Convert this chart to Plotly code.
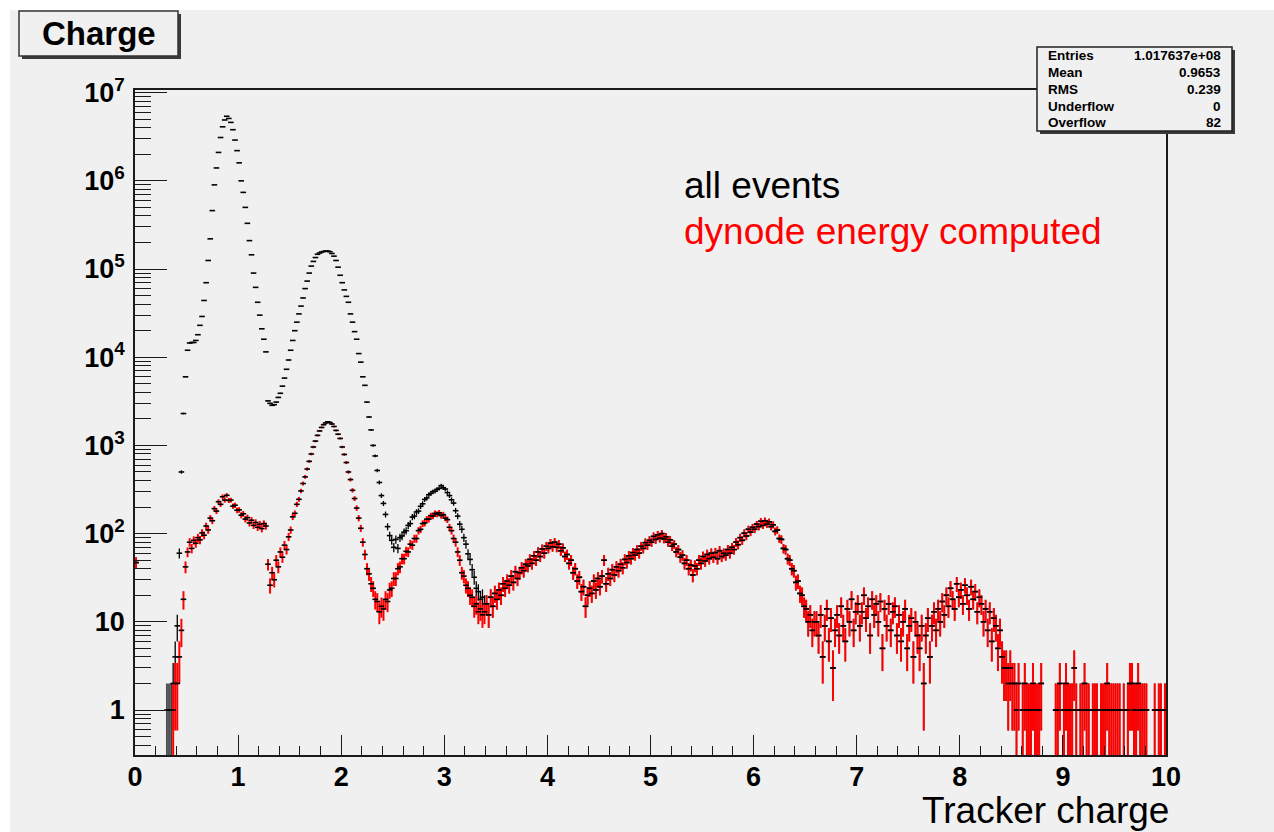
import numpy as np
import plotly.graph_objects as go

# Histogram binning: 500 bins of width 0.02 on [0, 10]
BIN_WIDTH = 0.02

# "all events" counts, bins centred 0.01 ... 3.39
all_events_head = [
    47, 0, 0, 0, 0, 0, 0, 0, 0, 0,
    0, 0, 0, 0, 0, 1, 1, 1, 2, 4,
    9, 60, 500, 2300, 6000, 12000, 14500, 14700, 14700, 15500,
    18000, 23000, 29000, 44000, 70000, 125000, 220000, 460000, 900000, 1400000,
    2100000, 3100000, 4100000, 4900000, 5400000, 5100000, 4600000, 3800000, 2900000, 2200000,
    1600000, 1000000, 740000, 500000, 330000, 210000, 145000, 90000, 62000, 42000,
    30000, 21000, 16000, 11500, 3200, 3000, 2850, 2900, 3100, 3500,
    3900, 4700, 5800, 7300, 9300, 12000, 15500, 20000, 25000, 31000,
    38000, 47000, 60000, 73000, 90000, 108000, 122000, 135000, 147000, 152000,
    156000, 158000, 160000, 160000, 157000, 150000, 140000, 125000, 105000, 85000,
    70000, 58000, 49000, 42000, 31000, 25000, 19500, 16000, 11000, 8800,
    6000, 4800, 3100, 2100, 1500, 1000, 760, 520, 380, 270,
    220, 165, 120, 95, 84, 70, 86, 68, 90, 94,
    104, 108, 124, 130, 154, 158, 176, 180, 204, 218,
    244, 254, 276, 286, 300, 302, 318, 326, 350, 332,
    320, 292, 270, 242, 222, 182, 158, 128, 112, 90,
    76, 59, 51, 39, 32, 24, 22, 18, 19, 16,
]

# "dynode energy computed" counts, bins centred 0.01 ... 3.39
dynode_head = [
    47, 0, 0, 0, 0, 0, 0, 0, 0, 0,
    0, 0, 0, 0, 0, 0, 0, 0, 1, 2,
    2, 4, 8, 18, 42, 62, 80, 68, 84, 78,
    90, 85, 102, 96, 122, 110, 150, 140, 192, 180,
    230, 215, 262, 240, 272, 238, 240, 205, 210, 184,
    186, 162, 168, 146, 152, 132, 142, 124, 134, 118,
    128, 114, 130, 122, 45, 26, 36, 30, 50, 42,
    62, 54, 74, 66, 92, 110, 155, 170, 215, 245,
    305, 370, 440, 540, 660, 800, 960, 1120, 1300, 1460,
    1600, 1720, 1800, 1850, 1820, 1750, 1640, 1480, 1340, 1200,
    960, 790, 640, 500, 410, 310, 250, 195, 150, 115,
    80, 58, 40, 35, 27, 24, 18, 17, 13, 15,
    14, 18, 17, 23, 24, 31, 31, 40, 42, 52,
    52, 63, 62, 76, 74, 88, 88, 108, 112, 130,
    132, 146, 146, 160, 158, 170, 166, 172, 160, 164,
    150, 144, 118, 108, 88, 80, 62, 50, 36, 33,
    26, 24, 20, 19, 15, 16, 13, 14, 12, 13,
]

# Above charge 3.4 both selections hold the same events: bins 3.41 ... 9.99
shared_tail = [
    16, 12, 19, 15, 21, 18, 23, 20, 27, 24,
    29, 26, 33, 28, 37, 31, 36, 41, 38, 45,
    43, 51, 46, 56, 50, 62, 55, 67, 60, 72,
    68, 78, 71, 80, 70, 76, 64, 69, 55, 58,
    46, 50, 36, 40, 29, 32, 22, 25, 15, 20,
    24, 21, 29, 23, 31, 25, 33, 50, 27, 35,
    31, 39, 34, 42, 38, 45, 41, 51, 47, 56,
    52, 61, 57, 66, 60, 72, 68, 79, 74, 84,
    80, 93, 86, 97, 89, 100, 87, 92, 80, 85,
    72, 76, 62, 66, 54, 57, 46, 50, 40, 44,
    34, 43, 40, 50, 46, 55, 49, 58, 52, 60,
    54, 61, 52, 64, 55, 60, 57, 66, 60, 70,
    66, 80, 75, 90, 84, 101, 94, 112, 104, 118,
    112, 128, 120, 138, 124, 140, 128, 136, 120, 126,
    106, 110, 88, 86, 68, 66, 52, 50, 40, 38,
    28, 29, 21, 20, 15, 14, 10, 12, 8, 10,
    10, 7, 12, 4, 9, 14, 6, 11, 3, 8,
    12, 7, 15, 9, 6, 14, 10, 18, 8, 13,
    16, 9, 13, 20, 11, 15, 7, 18, 12, 16,
    10, 17, 5, 14, 9, 16, 8, 13, 15, 7,
    12, 6, 10, 14, 5, 9, 11, 4, 10, 7,
    5, 9, 2, 7, 11, 4, 9, 13, 8, 14,
    10, 17, 12, 20, 15, 24, 18, 14, 27, 19,
    23, 16, 26, 20, 14, 25, 18, 22, 13, 19,
    16, 10, 14, 8, 13, 6, 11, 9, 5, 8,
    4, 3, 3, 2, 3, 2, 2, 1, 2, 0,
    1, 2, 1, 1, 1, 2, 1, 1, 1, 2,
    0, 0, 0, 0, 0, 0, 1, 1, 2, 0,
    1, 2, 1, 1, 1, 3, 1, 0, 1, 1,
    2, 1, 1, 0, 1, 1, 1, 0, 1, 1,
    1, 2, 1, 1, 1, 1, 1, 1, 0, 1,
    0, 1, 2, 2, 1, 1, 2, 1, 1, 1,
    1, 0, 0, 0, 1, 0, 1, 1, 0, 1,
]

all_events = all_events_head + shared_tail
dynode = dynode_head + shared_tail

stats_labels = ["Entries", "Mean", "RMS", "Underflow", "Overflow"]
stats_values = ["1.017637e+08", "0.9653", "0.239", "0", "82"]

y_tick_vals = [1, 10, 100, 1e3, 1e4, 1e5, 1e6, 1e7]
y_tick_text = ["1", "10", "10<sup>2</sup>", "10<sup>3</sup>", "10<sup>4</sup>",
               "10<sup>5</sup>", "10<sup>6</sup>", "10<sup>7</sup>"]

# ---- page geometry (pixels) ----
W, H = 1274, 832
PL, PR, PT, PB = 135, 1166, 90, 755
BG = "#f0f0f0"
FRAME = "#1a1a1a"


def fx(xp):
    return (xp - PL) / (PR - PL)


def fy(yp):
    return (PB - yp) / (PB - PT)


def hist_trace(counts, bar_color, bar_width):
    c = np.asarray(counts, dtype=float)
    centers = 0.01 + BIN_WIDTH * np.arange(len(c))
    keep = c > 0
    y = c[keep]
    err = np.sqrt(y)
    return go.Scatter(
        x=centers[keep], y=y, mode="markers",
        marker=dict(symbol="line-ew", size=4, color="black",
                    line=dict(color="black", width=1.6)),
        error_y=dict(type="data", array=err, arrayminus=err, symmetric=False,
                     color=bar_color, thickness=bar_width, width=0),
        showlegend=False, hoverinfo="skip",
    )


fig = go.Figure()
fig.add_trace(hist_trace(all_events, "black", 1.3))
fig.add_trace(hist_trace(dynode, "#ff0000", 2.0))

tick_font = dict(family="Liberation Sans", size=27, color="black", weight="bold")

minor_x = [round(0.2 * i, 1) for i in range(51) if i % 5 != 0]
minor_y = [m * 10.0 ** e for e in range(-1, 7) for m in range(2, 10)
           if m * 10.0 ** e > 0.3]

fig.update_layout(
    width=W, height=H, template="none",
    margin=dict(l=PL, r=W - PR, t=PT, b=H - PB, pad=0, autoexpand=False),
    paper_bgcolor="white", plot_bgcolor="rgba(0,0,0,0)",
    xaxis=dict(
        range=[0, 10], showgrid=False, zeroline=False, automargin=False,
        showline=True, mirror=True, linecolor=FRAME, linewidth=1.6,
        ticks="inside", ticklen=20, tickwidth=1.4, tickcolor=FRAME,
        tickmode="array", tickvals=list(range(11)),
        ticktext=[str(i) for i in range(11)],
        tickfont=tick_font, ticklabelstandoff=-3,
        minor=dict(ticks="inside", ticklen=9, tickwidth=1.4, tickcolor=FRAME,
                   tickmode="array", tickvals=minor_x, showgrid=False),
    ),
    yaxis=dict(
        type="log", range=[-0.51, 7.03], showgrid=False, zeroline=False,
        automargin=False, showline=True, mirror=True, linecolor=FRAME,
        linewidth=1.6, ticks="inside", ticklen=32, tickwidth=1.4,
        tickcolor=FRAME, tickmode="array", tickvals=y_tick_vals,
        ticktext=y_tick_text, tickfont=tick_font, ticklabelstandoff=3,
        minor=dict(ticks="inside", ticklen=16, tickwidth=1.4, tickcolor=FRAME,
                   tickmode="array", tickvals=minor_y, showgrid=False),
    ),
)

shapes = [
    # canvas fill
    dict(type="rect", xref="paper", yref="paper", x0=fx(10), x1=fx(W),
         y0=fy(H), y1=fy(10), fillcolor=BG, line=dict(width=0), layer="below"),
    # title box with shadow
    dict(type="rect", xref="paper", yref="paper", x0=fx(22), x1=fx(181),
         y0=fy(59), y1=fy(14), fillcolor="#3a3a3a", line=dict(width=0), layer="above"),
    dict(type="rect", xref="paper", yref="paper", x0=fx(19), x1=fx(178),
         y0=fy(56), y1=fy(11), fillcolor=BG, line=dict(color="#333333", width=1.5),
         layer="above"),
    # statistics box with shadow
    dict(type="rect", xref="paper", yref="paper", x0=fx(1040), x1=fx(1235),
         y0=fy(134), y1=fy(50), fillcolor="#3a3a3a", line=dict(width=0), layer="above"),
    dict(type="rect", xref="paper", yref="paper", x0=fx(1037), x1=fx(1232),
         y0=fy(131), y1=fy(47), fillcolor=BG, line=dict(color="#222222", width=1.5),
         layer="above"),
]

annotations = [
    dict(text="Charge", x=fx(98.5), y=fy(33.5), xanchor="center", yanchor="middle",
         font=dict(family="Liberation Sans", size=33, color="black", weight="bold")),
    dict(text="all events", x=fx(682), y=fy(185), xanchor="left", yanchor="middle",
         font=dict(family="Liberation Sans", size=37, color="black")),
    dict(text="dynode energy computed", x=fx(682), y=fy(232), xanchor="left",
         yanchor="middle", font=dict(family="Liberation Sans", size=37, color="#ff0000")),
    dict(text="Tracker charge", x=fx(1171), y=fy(810), xanchor="right",
         yanchor="middle", font=dict(family="Liberation Sans", size=37, color="black")),
]
for i, (lab, val) in enumerate(zip(stats_labels, stats_values)):
    yc = fy(55.6 + 16.8 * i)
    sfont = dict(family="Liberation Sans", size=13.5, color="black", weight="bold")
    annotations.append(dict(text=lab, x=fx(1046), y=yc, xanchor="left",
                            yanchor="middle", font=sfont))
    annotations.append(dict(text=val, x=fx(1223), y=yc, xanchor="right",
                            yanchor="middle", font=sfont))

for a in annotations:
    a.update(xref="paper", yref="paper", showarrow=False)

fig.update_layout(shapes=shapes, annotations=annotations)
fig.write_html("out.html")
